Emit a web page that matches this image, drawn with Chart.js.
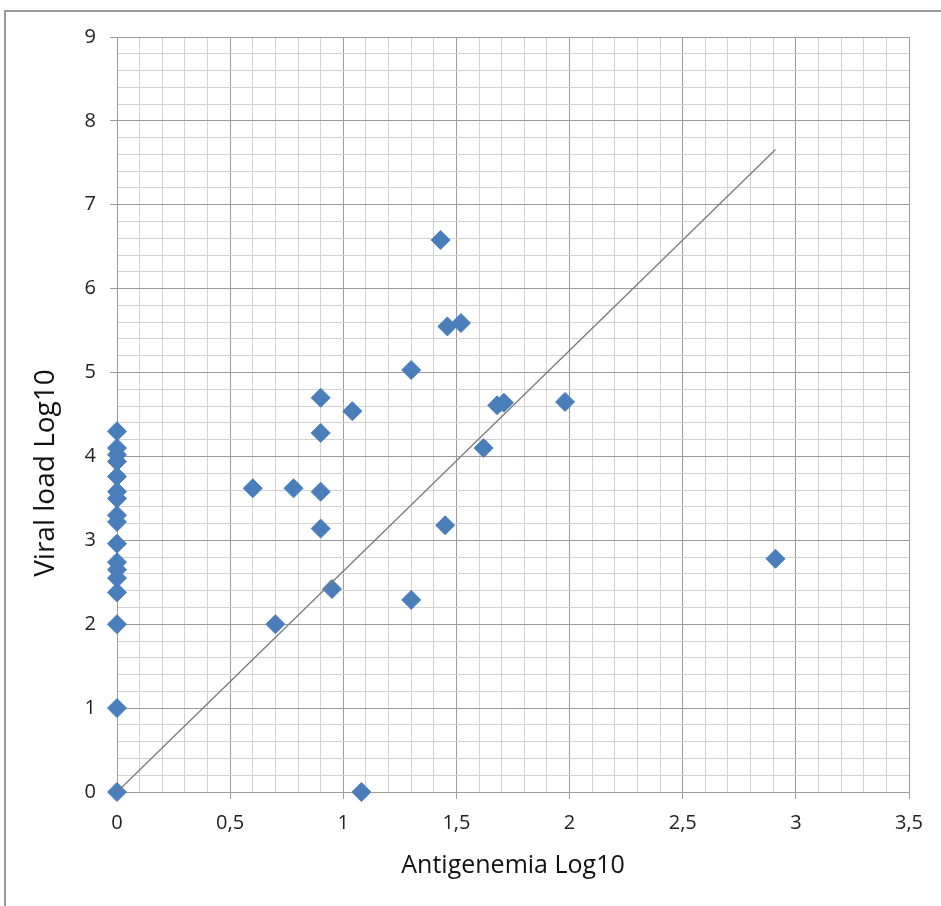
<!DOCTYPE html>
<html>
<head>
<meta charset="utf-8">
<script src="https://cdn.jsdelivr.net/npm/chart.js@4/dist/chart.umd.min.js"></script>
<style>
    body { margin: 0; background: #fff; }
    #wrap { position: relative; width: 941px; height: 906px; overflow: hidden; }
    #chart { position: absolute; left: 0; top: 0; }
    #frame { position: absolute; left: 4px; top: 10px; width: 1000px; height: 1000px;
             border: 2px solid #9a9a9a; pointer-events: none; }
</style>
</head>
<body>
<div id="wrap">
    <canvas id="chart" width="941" height="906"></canvas>
    <div id="frame"></div>
</div>
<script>
// Data
const antigenemia = [0, 0, 0, 0, 0, 0, 0, 0, 0, 0, 0, 0, 0, 0, 0, 0, 0,
    0.6, 0.7, 0.78, 0.9, 0.9, 0.9, 0.9, 0.95, 1.04, 1.08, 1.3, 1.3,
    1.43, 1.45, 1.46, 1.52, 1.62, 1.68, 1.71, 1.98, 2.91];
const viralLoad = [4.3, 4.1, 4.02, 3.94, 3.76, 3.58, 3.5, 3.3, 3.22, 2.96, 2.74, 2.65, 2.55, 2.38, 2.0, 1.0, 0,
    3.62, 2.0, 3.62, 4.7, 4.28, 3.58, 3.14, 2.42, 4.54, 0, 5.03, 2.29,
    6.58, 3.18, 5.55, 5.59, 4.1, 4.61, 4.64, 4.65, 2.78];

// trend line end points
const trendX = [0, 2.91];
const trendY = [0, 7.66];

const xTickLabels = ['0', '0,5', '1', '1,5', '2', '2,5', '3', '3,5'];
const yTickLabels = ['0', '1', '2', '3', '4', '5', '6', '7', '8', '9'];

const xTitle = 'Antigenemia Log10';
const yTitle = 'Viral load Log10';

const majorColor = '#9c9c9c';
const minorColor = '#d2d2d2';

function isMajorX(v) { return Math.abs(v * 2 - Math.round(v * 2)) < 1e-6; }
function isMajorY(v) { return Math.abs(v - Math.round(v)) < 1e-6; }

// y title sits lower than the plot centre, so it is drawn by hand
const yTitlePlugin = {
    id: 'yTitle',
    afterDraw(chart) {
        const ctx = chart.ctx;
        ctx.save();
        ctx.translate(54, 473);
        ctx.rotate(-Math.PI / 2);
        ctx.font = '28px "Open Sans"';
        ctx.fillStyle = '#111';
        ctx.textAlign = 'center';
        ctx.textBaseline = 'alphabetic';
        ctx.fillText(yTitle, 0, 0);
        ctx.restore();
    }
};

const ctx = document.getElementById('chart').getContext('2d');

new Chart(ctx, {
    type: 'scatter',
    data: {
        datasets: [{
            // trend line, on top of the points
            data: trendX.map((x, i) => ({x: x, y: trendY[i]})),
            showLine: true,
            borderColor: '#7a7a7a',
            borderWidth: 1.3,
            pointRadius: 0,
            clip: false
        }, {
            data: antigenemia.map((x, i) => ({x: x, y: viralLoad[i]})),
            pointStyle: 'rectRot',
            pointRadius: 9.5,
            pointHoverRadius: 9.5,
            backgroundColor: '#4a7ebb',
            borderColor: '#4a7ebb',
            borderWidth: 1,
            clip: false
        }]
    },
    options: {
        responsive: false,
        animation: false,
        layout: {
            padding: { left: 0, right: 32, top: 37, bottom: 0 }
        },
        plugins: {
            legend: { display: false },
            tooltip: { enabled: false }
        },
        scales: {
            x: {
                type: 'linear',
                min: 0,
                max: 3.5,
                afterFit: scale => { scale.height = 114; },
                border: { color: majorColor, width: 1 },
                grid: {
                    color: c => isMajorX(c.tick.value) ? majorColor : minorColor,
                    tickColor: c => isMajorX(c.tick.value) ? majorColor : 'rgba(0,0,0,0)',
                    tickLength: 7,
                    lineWidth: 1
                },
                ticks: {
                    stepSize: 0.1,
                    maxTicksLimit: 100,
                    autoSkip: false,
                    maxRotation: 0,
                    padding: 12,
                    color: '#222',
                    font: { family: '"Open Sans"', size: 20 },
                    callback: v => isMajorX(v) ? xTickLabels[Math.round(v * 2)] : ''
                },
                title: {
                    display: true,
                    text: xTitle,
                    color: '#111',
                    font: { family: '"Open Sans"', size: 25 },
                    padding: { top: 0, bottom: 25 }
                }
            },
            y: {
                type: 'linear',
                min: 0,
                max: 9,
                afterFit: scale => { scale.width = 117; },
                border: { color: majorColor, width: 1 },
                grid: {
                    color: c => isMajorY(c.tick.value) ? majorColor : minorColor,
                    tickColor: c => isMajorY(c.tick.value) ? majorColor : 'rgba(0,0,0,0)',
                    tickLength: 7,
                    lineWidth: 1
                },
                ticks: {
                    stepSize: 0.2,
                    maxTicksLimit: 100,
                    autoSkip: false,
                    padding: 14,
                    color: '#222',
                    font: { family: '"Open Sans"', size: 20 },
                    callback: v => isMajorY(v) ? yTickLabels[Math.round(v)] : ''
                }
            }
        }
    },
    plugins: [yTitlePlugin]
});
</script>
</body>
</html>
